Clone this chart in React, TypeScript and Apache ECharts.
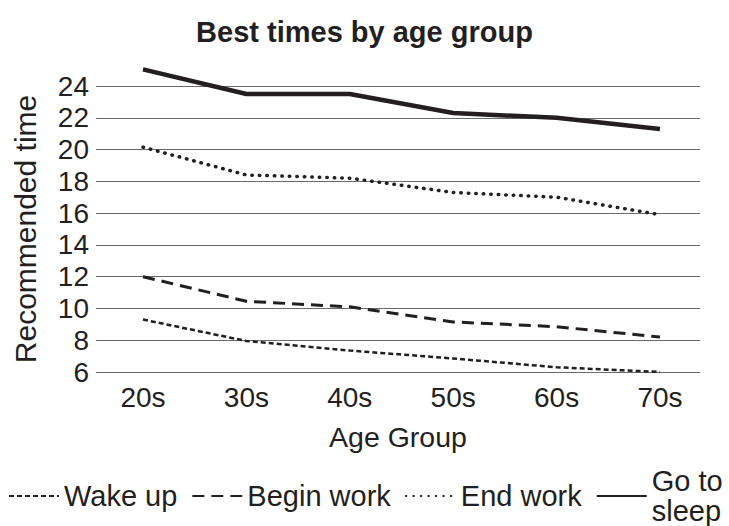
import React, { useEffect, useRef } from "react";
import * as echarts from "echarts";

const categories = ["20s", "30s", "40s", "50s", "60s", "70s"];
const seriesNames = ["Wake up", "Begin work", "End work", "Go to sleep"];
const wakeUp = [9.3, 7.95, 7.35, 6.85, 6.3, 6.0];
const beginWork = [12.0, 10.45, 10.1, 9.15, 8.85, 8.2];
const endWork = [20.15, 18.4, 18.2, 17.3, 17.0, 15.9];
const goToSleep = [25.05, 23.5, 23.5, 22.3, 22.0, 21.3];
const yTicks = [6, 8, 10, 12, 14, 16, 18, 20, 22, 24];

const FONT = "'Liberation Sans', Arial, Helvetica, sans-serif";
const INK = "#231f20";

export default function App() {
  const ref = useRef<HTMLDivElement>(null);
  useEffect(() => {
    if (!ref.current) return;
    const chart = echarts.init(ref.current, undefined, { renderer: "svg" });
    const toPairs = (arr: number[]) => arr.map((v, i) => [i, v]);
    const styles = [
      { width: 2.5, type: [5, 3], cap: "butt" },
      { width: 3, type: [12, 7], cap: "butt" },
      { width: 3.5, type: [0.5, 7], cap: "round" },
      { width: 4.5, type: "solid", cap: "butt" },
    ];
    const data = [wakeUp, beginWork, endWork, goToSleep];
    chart.setOption({
      animation: false,
      backgroundColor: "#ffffff",
      title: {
        text: "Best times by age group",
        left: "center",
        top: 12,
        textStyle: { fontFamily: FONT, fontSize: 29, fontWeight: "bold", color: INK },
      },
      grid: { left: 96, right: 29, top: 86, bottom: 154, containLabel: false },
      xAxis: {
        type: "value",
        min: -0.4545,
        max: 5.387,
        name: "Age Group",
        nameLocation: "middle",
        nameGap: 50,
        nameTextStyle: { fontFamily: FONT, fontSize: 28.5, color: INK },
        axisLine: { show: false },
        axisTick: { show: false },
        splitLine: { show: false },
        axisLabel: {
          customValues: categories.map((_, i) => i),
          formatter: (v: number) => categories[Math.round(v)] ?? "",
          fontFamily: FONT,
          fontSize: 28,
          color: INK,
          margin: 11,
        },
      },
      yAxis: {
        type: "value",
        min: yTicks[0],
        max: yTicks[yTicks.length - 1],
        interval: 2,
        name: "Recommended time",
        nameLocation: "middle",
        nameGap: 56,
        nameTextStyle: { fontFamily: FONT, fontSize: 30, color: INK },
        axisLine: { show: false },
        axisTick: { show: false },
        splitLine: { show: true, lineStyle: { color: "#6a6a6a", width: 1 } },
        axisLabel: { fontFamily: FONT, fontSize: 28, color: INK, margin: 7 },
      },
      legend: {
        left: 3,
        top: 461,
        itemWidth: 50,
        itemHeight: 14,
        itemGap: 14,
        data: seriesNames,
        itemStyle: { opacity: 0 },
        formatter: (name: string) => (name === "Go to sleep" ? "Go to\nsleep" : name),
        textStyle: { fontFamily: FONT, fontSize: 29, color: INK, lineHeight: 30 },
      },
      series: seriesNames.map((name, k) => ({
        name,
        type: "line",
        data: toPairs(data[k]),
        symbol: "none",
        clip: false,
        color: INK,
        lineStyle: { color: INK, width: styles[k].width, type: styles[k].type, cap: styles[k].cap },
      })),
    });
    return () => chart.dispose();
  }, []);
  return (
    <div
      ref={ref}
      style={{ position: "fixed", left: 0, top: 0, width: 729, height: 526, background: "#fff" }}
    />
  );
}
